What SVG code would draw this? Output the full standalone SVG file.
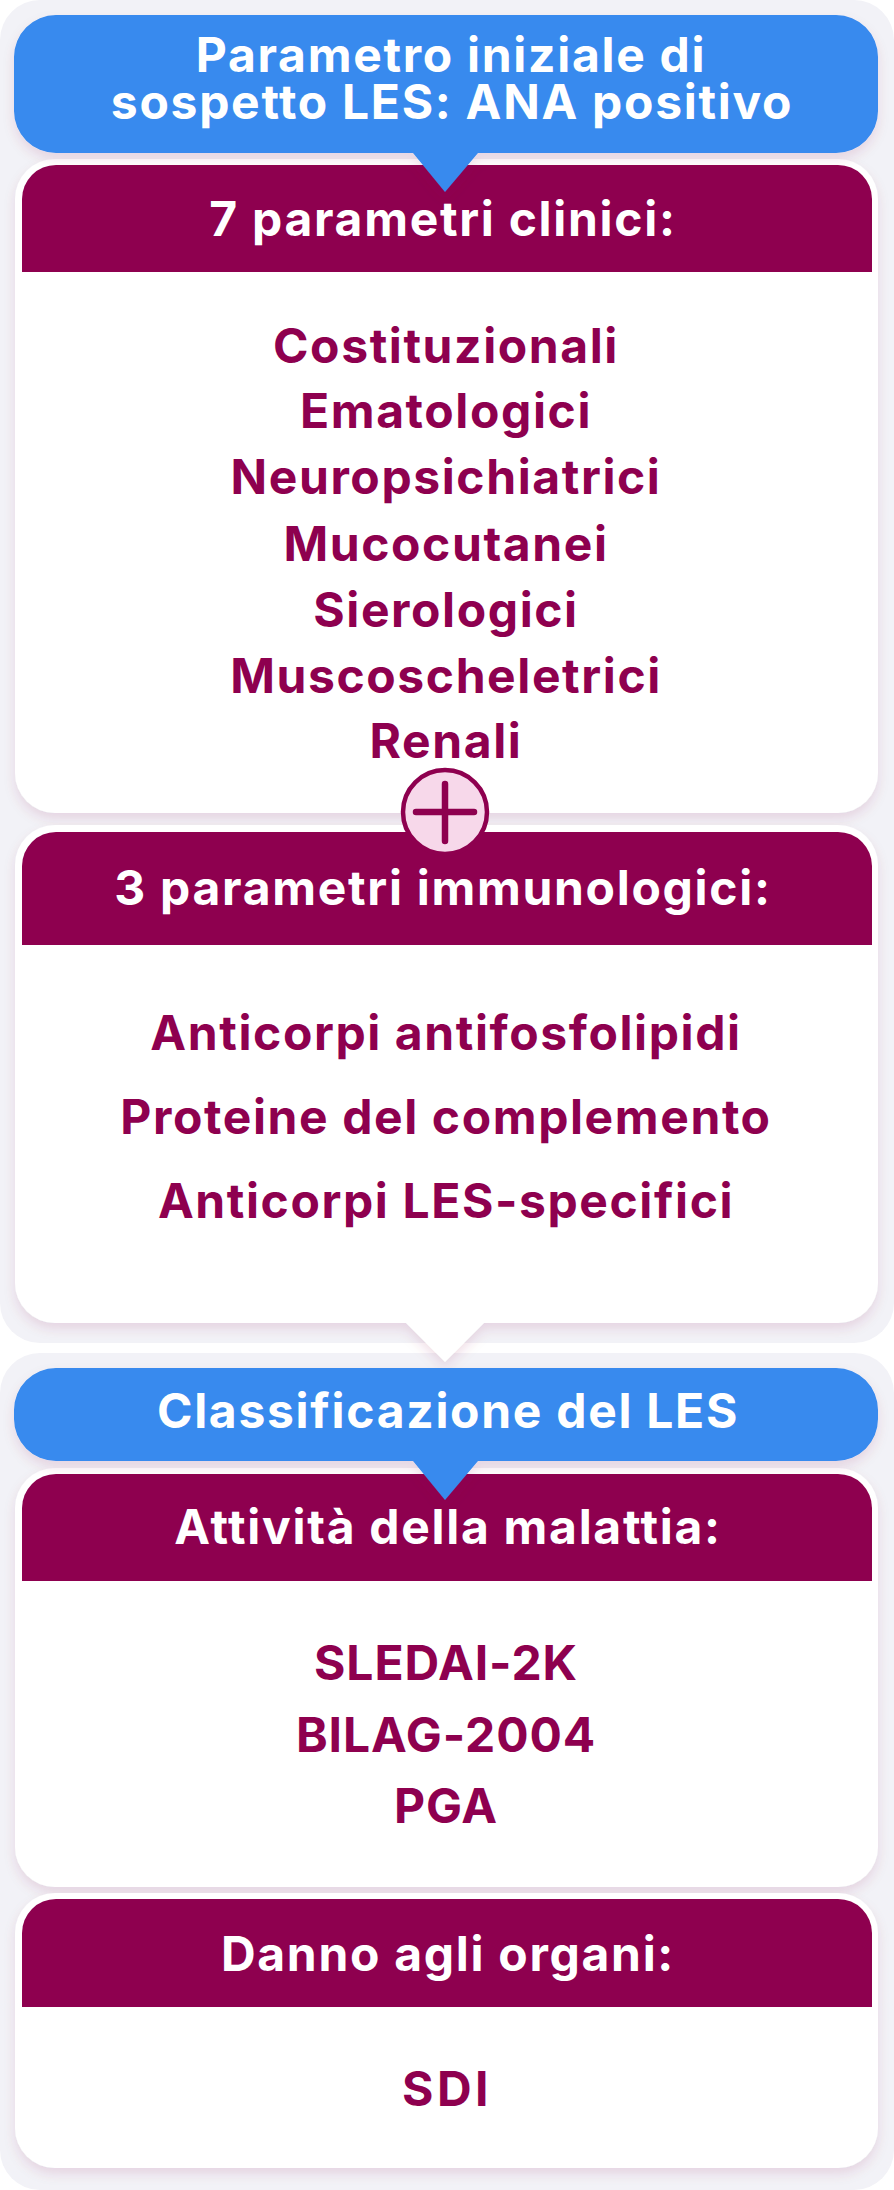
<svg xmlns="http://www.w3.org/2000/svg" width="894" height="2190" viewBox="0 0 894 2190">
<defs>
<filter id="sh" x="-10%" y="-10%" width="120%" height="130%">
<feDropShadow dx="0" dy="6" stdDeviation="6" flood-color="#8e004f" flood-opacity="0.12"/>
</filter>
<style>
.panel{fill:#f2f2f7}
.card{fill:#ffffff}
.hdr{fill:#8e004f}
.blue{fill:#378aee}
.ht{font-family:Inter,"Liberation Sans",sans-serif;font-weight:700;font-size:48px;letter-spacing:1.7px;fill:#ffffff;text-anchor:middle}
.it{font-family:Inter,"Liberation Sans",sans-serif;font-weight:700;font-size:48px;letter-spacing:1.6px;fill:#8e004f;text-anchor:middle}
.up{letter-spacing:0.9px}
.sdi{letter-spacing:3.5px}
</style>
</defs>
<rect width="894" height="2190" fill="#ffffff"/>
<rect class="panel" x="0" y="0" width="894" height="1343" rx="40"/>
<rect class="panel" x="0" y="1353" width="894" height="837" rx="40"/>

<g id="card-clinici">
<rect class="card" x="15" y="159" width="863" height="654" rx="40" filter="url(#sh)"/>
<path class="hdr" d="M22,272 V199 A34,34 0 0 1 56,165 H838 A34,34 0 0 1 872,199 V272 Z"/>
<text class="ht" x="443" y="236">7 parametri clinici:</text>
<text class="it" x="446" y="363">Costituzionali</text>
<text class="it" x="446" y="428">Ematologici</text>
<text class="it" x="446" y="494">Neuropsichiatrici</text>
<text class="it" x="446" y="561">Mucocutanei</text>
<text class="it" x="446" y="627">Sierologici</text>
<text class="it" x="446" y="693">Muscoscheletrici</text>
<text class="it" x="446" y="758">Renali</text>
</g>

<g id="card-immuno">
<path class="card" filter="url(#sh)" d="M55,825 H838 A40,40 0 0 1 878,865 V1283 A40,40 0 0 1 838,1323 H484 L445,1362 L406,1323 H55 A40,40 0 0 1 15,1283 V865 A40,40 0 0 1 55,825 Z"/>
<path class="hdr" d="M22,945 V866 A34,34 0 0 1 56,832 H838 A34,34 0 0 1 872,866 V945 Z"/>
<text class="ht" x="443" y="905">3 parametri immunologici:</text>
<text class="it" x="446" y="1050">Anticorpi antifosfolipidi</text>
<text class="it" x="446" y="1134">Proteine del complemento</text>
<text class="it" x="446" y="1218">Anticorpi LES-specifici</text>
</g>

<g id="plus">
<circle cx="445" cy="812" r="42" fill="#f7d8ea" stroke="#8e004f" stroke-width="4.5"/>
<path d="M416,812 H474 M445,784 V841" stroke="#8e004f" stroke-width="6.5" stroke-linecap="round" fill="none"/>
</g>

<g id="card-attivita">
<rect class="card" x="15" y="1468" width="863" height="419" rx="40" filter="url(#sh)"/>
<path class="hdr" d="M22,1581 V1508 A34,34 0 0 1 56,1474 H838 A34,34 0 0 1 872,1508 V1581 Z"/>
<text class="ht" x="448" y="1544">Attività della malattia:</text>
<text class="it up" x="446" y="1680">SLEDAI-2K</text>
<text class="it up" x="446" y="1752">BILAG-2004</text>
<text class="it up" x="446" y="1823">PGA</text>
</g>

<g id="card-danno">
<rect class="card" x="15" y="1893" width="863" height="275" rx="40" filter="url(#sh)"/>
<path class="hdr" d="M22,2007 V1933 A34,34 0 0 1 56,1899 H838 A34,34 0 0 1 872,1933 V2007 Z"/>
<text class="ht" x="448" y="1971">Danno agli organi:</text>
<text class="it sdi" x="447" y="2106">SDI</text>
</g>

<g id="start">
<path class="blue" filter="url(#sh)" d="M56,15 H836 A42,42 0 0 1 878,57 V111 A42,42 0 0 1 836,153 H478 L445,192 L413,153 H56 A42,42 0 0 1 14,111 V57 A42,42 0 0 1 56,15 Z"/>
<text class="ht" x="451" y="72">Parametro iniziale di</text>
<text class="ht" x="452" y="119">sospetto LES: ANA positivo</text>
</g>

<g id="classificazione">
<path class="blue" filter="url(#sh)" d="M56,1368 H836 A42,42 0 0 1 878,1410 V1419 A42,42 0 0 1 836,1461 H478 L445,1500 L413,1461 H56 A42,42 0 0 1 14,1419 V1410 A42,42 0 0 1 56,1368 Z"/>
<text class="ht" x="448" y="1428">Classificazione del LES</text>
</g>

<g id="connectors"/>
</svg>
